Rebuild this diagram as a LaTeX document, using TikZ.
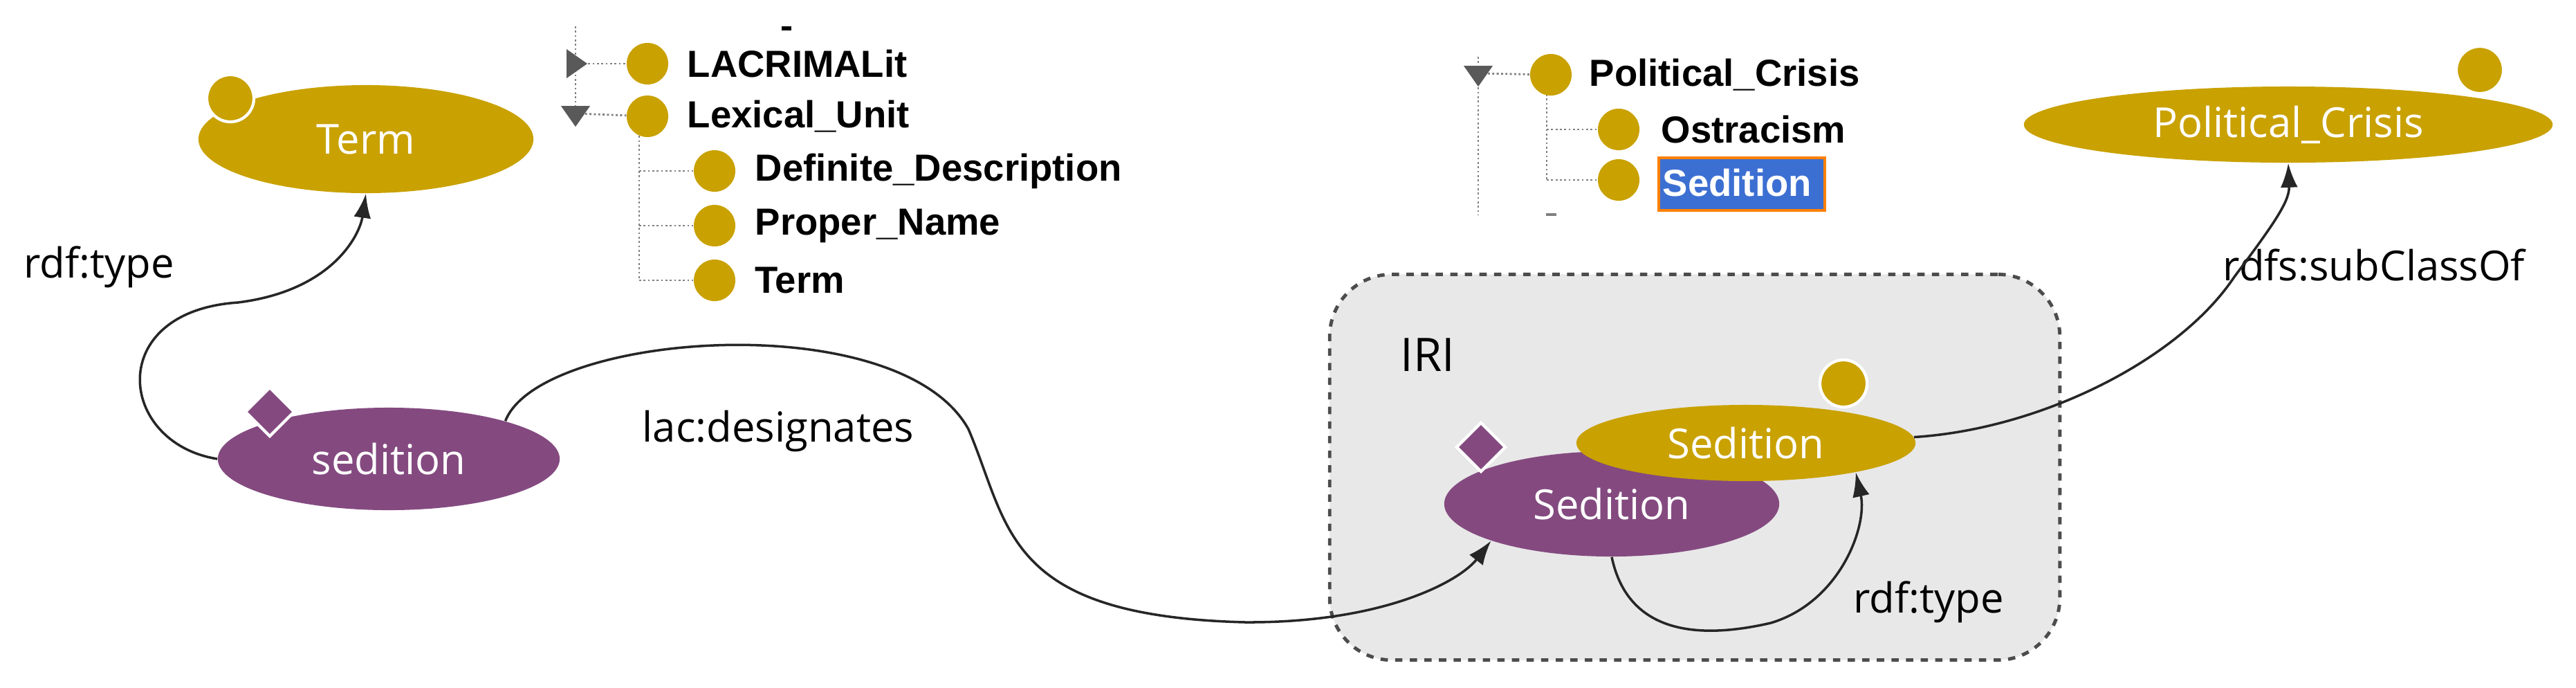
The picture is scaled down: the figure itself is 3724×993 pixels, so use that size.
\documentclass[tikz,border=0pt]{standalone}
\usepackage{fontspec}
\setmainfont{Open Sans}
\newfontfamily\treefont{Liberation Sans}
\usetikzlibrary{shapes.geometric,arrows.meta}
\definecolor{gold}{HTML}{C9A100}
\definecolor{plum}{HTML}{844A80}
\definecolor{selblue}{HTML}{3C6FD2}
\definecolor{boxgray}{HTML}{E8E8E8}
\begin{document}
\begin{tikzpicture}[x=0.01cm,y=-0.01cm,
  cls/.style={ellipse,fill=gold,text=white,inner sep=0pt,font=\fontsize{17}{20}\selectfont},
  ind/.style={ellipse,fill=plum,text=white,inner sep=0pt,font=\fontsize{17}{20}\selectfont},
  dot/.style={circle,fill=gold,draw=white,line width=1.2pt,minimum size=0.68cm,inner sep=0pt},
  dia/.style={diamond,fill=plum,draw=white,line width=1.2pt,minimum size=0.72cm,inner sep=0pt},
  lbl/.style={font=\fontsize{17}{20}\selectfont,inner sep=0pt},
  edge/.style={draw=black!85,line width=1pt,-{Latex[length=0.35cm,width=0.25cm]}},
  tdot/.style={circle,fill=gold,minimum size=0.6cm,inner sep=0pt},
  ttxt/.style={anchor=west,inner sep=0pt,font=\treefont\bfseries\fontsize{15.5}{18}\selectfont},
  tline/.style={draw=gray,densely dotted,line width=0.8pt},
  tri/.style={isosceles triangle,fill=gray!70!black,inner sep=0pt,minimum height=0.3cm,minimum width=0.34cm,isosceles triangle apex angle=70}]
\useasboundingbox (0,0) rectangle (3724,993);
% IRI box
\node[draw=black!70,dashed,line width=1.4pt,fill=boxgray,rounded corners=0.9cm,minimum width=10.55cm,minimum height=5.57cm,inner sep=0pt] (box) at (2450,675) {};
\node[lbl,font=\fontsize{19}{22}\selectfont] (iri) at (2064,513) {IRI};
% nodes
\node[cls,minimum width=4.84cm,minimum height=1.56cm] (term) at (529,201) {Term};
\node[dot] (termdot) at (333,142) {};
\node[ind,minimum width=4.94cm,minimum height=1.48cm] (sed) at (562,663) {sedition};
\node[dia] (seddia) at (390,595) {};
\node[cls,minimum width=7.64cm,minimum height=1.1cm] (pc) at (3308,180) {Political\_Crisis};
\node[dot] (pcdot) at (3585,101) {};
\node[ind,minimum width=4.84cm,minimum height=1.52cm] (psed) at (2330,728) {Sedition};
\node[dia] (psdia) at (2141,646) {};
\node[cls,minimum width=4.9cm,minimum height=1.1cm] (ysed) at (2524,640) {Sedition};
\node[dot] (ysdot) at (2665,554) {};
% labels
\node[lbl] (l1) at (143,386) {rdf:type};
\node[lbl] (l2) at (1125,623) {lac:designates};
\node[lbl] (l3) at (3432,383) {rdfs:subClassOf};
\node[lbl] (l4) at (2788,870) {rdf:type};
% edges
\draw[edge] (sed.west) .. controls (170,640) and (150,450) .. (344,437) .. controls (480,420) and (520,340) .. (term.south);
\draw[edge] (sed.18) .. controls (780,480) and (1300,440) .. (1400,620) .. controls (1460,760) and (1450,890) .. (1800,899) .. controls (2000,900) and (2110,840) .. (psed.197);
\draw[edge] (psed.south) .. controls (2350,900) and (2430,930) .. (2560,900) .. controls (2660,870) and (2700,760) .. (ysed.-15);
\draw[edge] (ysed.2) .. controls (2950,620) and (3150,520) .. (3230,400) .. controls (3290,320) and (3310,290) .. (pc.south);
% left tree
\coordinate (lv1t) at (832,38);
\coordinate (lv1b) at (832,168);
\draw[tline] (lv1t) -- (lv1b);
\coordinate (lv2t) at (924,190);
\coordinate (lv2b) at (924,405);
\draw[tline] (lv2t) -- (lv2b);
\node[tdot] (c1) at (936,92) {};
\node[tdot] (c2) at (936,168) {};
\node[tdot] (c3) at (1033,247) {};
\node[tdot] (c4) at (1033,326) {};
\node[tdot] (c5) at (1033,405) {};
\node[tri] (tr1) at (830,92) {};
\node[tri,rotate=-90] (tr2) at (832,164) {};
\draw[tline] (tr1) -- (c1);
\draw[tline] (tr2) -- (c2);
\draw[tline] (924,247) -- (c3);
\draw[tline] (924,326) -- (c4);
\draw[tline] (924,405) -- (c5);
\node[ttxt] (t1) at (993,92) {LACRIMALit};
\node[ttxt] (t2) at (993,168) {Lexical\_Unit};
\node[ttxt] (t3) at (1091,247) {Definite\_Description};
\node[ttxt] (t4) at (1091,326) {Proper\_Name};
\node[ttxt] (t5) at (1091,405) {Term};
\draw[black,line width=1.5pt] (1130,41) -- (1144,41);
% right tree
\draw[tline] (2137,82) -- (2137,310);
\draw[tline] (2236,136) -- (2236,260);
\node[tdot] (d1) at (2242,108) {};
\node[tdot] (d2) at (2340,187) {};
\node[tdot] (d3) at (2340,260) {};
\node[tri,rotate=-90] (tr3) at (2137,106) {};
\draw[tline] (tr3) -- (d1);
\draw[tline] (2236,187) -- (d2);
\draw[tline] (2236,260) -- (d3);
\node[ttxt] (u1) at (2297,108) {Political\_Crisis};
\node[ttxt] (u2) at (2401,187) {Ostracism};
\node[fill=selblue,draw=orange,line width=1.2pt,minimum width=2.4cm,minimum height=0.76cm,inner sep=0pt] (selbox) at (2518,266) {};
\node[ttxt,text=white] (u3) at (2403,264) {Sedition};
\draw[gray,line width=1pt] (2235,310) -- (2250,310);
\end{tikzpicture}
\end{document}
